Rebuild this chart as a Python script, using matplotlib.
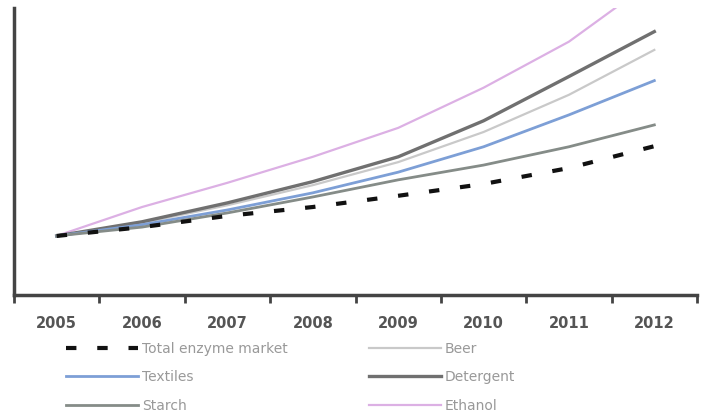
import matplotlib
matplotlib.use("Agg")
import matplotlib.pyplot as plt
import numpy as np

years = ["2005", "2006", "2007", "2008", "2009", "2010", "2011", "2012"]

# index values, 2005 = 100
total_market = [100, 115, 134, 149, 168, 188, 215, 252]
textiles = [100, 119, 144, 173, 208, 251, 305, 363]
starch = [100, 115, 139, 166, 195, 220, 251, 288]
beer = [100, 122, 152, 186, 225, 276, 339, 415]
detergent = [100, 124, 156, 192, 234, 295, 370, 446]
ethanol = [100, 149, 190, 234, 283, 351, 429, 534]

fig = plt.figure(figsize=(7.1, 4.18), dpi=100)
ax = fig.add_axes([14 / 710, 1 - 295 / 418, 683 / 710, 287 / 418])

x = np.arange(len(years))
ax.plot(x, ethanol, color="#dcb0e4", lw=1.6, label="Ethanol", zorder=3)
ax.plot(x, beer, color="#c9c9c9", lw=1.6, label="Beer", zorder=3)
ax.plot(x, detergent, color="#707070", lw=2.4, label="Detergent", zorder=3)
ax.plot(x, textiles, color="#7d9fd6", lw=2.0, label="Textiles", zorder=3)
ax.plot(x, starch, color="#858c88", lw=2.0, label="Starch", zorder=3)
ax.plot(x, total_market, color="#111111", lw=3.0, dashes=(2.5, 5),
        label="Total enzyme market", zorder=4)

ax.set_xlim(-0.5, len(years) - 0.5)
ax.set_ylim(0, 486)

for side in ["top", "right"]:
    ax.spines[side].set_visible(False)
for side in ["left", "bottom"]:
    ax.spines[side].set_color("#444444")
    ax.spines[side].set_linewidth(2.5)

ax.set_yticks([])
ax.set_xticks(np.arange(len(years) + 1) - 0.5)
ax.set_xticklabels([])
ax.tick_params(axis="x", which="major", length=6, width=2, color="#444444", direction="out")
ax.set_xticks(x, minor=True)
ax.set_xticklabels(years, minor=True, fontsize=10.5, fontweight="bold", color="#555555")
ax.tick_params(axis="x", which="minor", length=0, pad=15)

h, l = ax.get_legend_handles_labels()
lookup = dict(zip(l, h))

col1 = ["Total enzyme market", "Textiles", "Starch"]
col2 = ["Beer", "Detergent", "Ethanol"]
legend_kw = dict(loc="upper left", frameon=False, fontsize=10, handlelength=5.2,
                 handletextpad=0.3, labelspacing=1.05, labelcolor="#999999",
                 borderaxespad=0)
fig.legend([lookup[n] for n in col1], col1,
           bbox_to_anchor=(60 / 710, 1 - 336 / 418), **legend_kw)
fig.legend([lookup[n] for n in col2], col2,
           bbox_to_anchor=(363 / 710, 1 - 336 / 418), **legend_kw)

fig.savefig("out.png", dpi=100)
